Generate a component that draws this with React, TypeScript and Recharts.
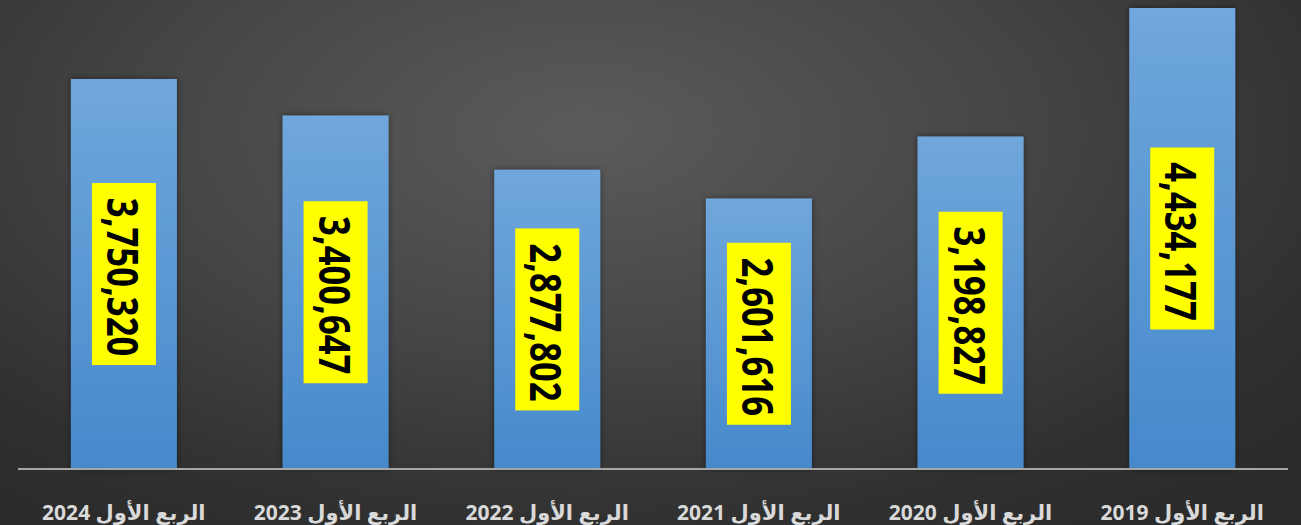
import React from "react";
import { BarChart, Bar, XAxis, YAxis, LabelList } from "recharts";

const categories = [
  "الربع الأول 2024",
  "الربع الأول 2023",
  "الربع الأول 2022",
  "الربع الأول 2021",
  "الربع الأول 2020",
  "الربع الأول 2019",
];
const values = [3750320, 3400647, 2877802, 2601616, 3198827, 4434177];

const data = categories.map((name, i) => ({ name, value: values[i] }));

const fmt = (v: number) => v.toLocaleString("en-US");

function ValueTag(props: any) {
  const { x, y, width, height, value } = props;
  const cx = x + width / 2;
  const cy = y + height / 2;
  const boxW = 64;
  const boxH = 182;
  return (
    <g>
      <rect x={cx - boxW / 2} y={cy - boxH / 2} width={boxW} height={boxH} fill="#ffff00" />
      <text
        transform={`translate(${cx},${cy + 3}) rotate(90) scale(1.05,1.3)`}
        textAnchor="middle"
        dominantBaseline="central"
        fontFamily="'Open Sans', 'DejaVu Sans', sans-serif"
        fontWeight="bold"
        fontSize={33}
        fill="#000"
      >
        {fmt(value)}
      </text>
    </g>
  );
}

function CatTick(props: any) {
  const { x, y, payload } = props;
  return (
    <text
      x={x}
      y={y + 43}
      textAnchor="middle"
      direction="rtl"
      fontFamily="'Open Sans', 'DejaVu Sans', sans-serif"
      fontWeight="bold"
      fontSize={21}
      fill="#d9d9d9"
    >
      {payload.value}
    </text>
  );
}

export default function App() {
  return (
    <div
      style={{
        position: "absolute",
        left: 0,
        top: 0,
        width: 1301,
        height: 525,
        background:
          "radial-gradient(ellipse 75% 95% at 45% 25%, #5b5b5b 0%, #454545 45%, #303030 80%, #2a2a2a 100%)",
      }}
    >
      <BarChart
        width={1301}
        height={525}
        data={data}
        margin={{ top: 8, right: 13, left: 18, bottom: 0 }}
        barCategoryGap="25%"
      >
        <defs>
          <linearGradient id="barFill" x1="0" y1="0" x2="0" y2="1">
            <stop offset="0%" stopColor="#70a7dc" />
            <stop offset="100%" stopColor="#4689cb" />
          </linearGradient>
          <filter id="barShadow" x="-10%" y="-5%" width="120%" height="110%">
            <feDropShadow dx="0" dy="0" stdDeviation="3" floodColor="#000" floodOpacity="0.45" />
          </filter>
        </defs>
        <YAxis hide domain={[0, 4434177]} />
        <XAxis
          dataKey="name"
          height={56}
          axisLine={{ stroke: "#a6a6a6", strokeWidth: 2 }}
          tickLine={false}
          tick={<CatTick />}
          interval={0}
        />
        <Bar
          dataKey="value"
          fill="url(#barFill)"
          filter="url(#barShadow)"
          isAnimationActive={false}
        >
          <LabelList dataKey="value" content={<ValueTag />} />
        </Bar>
      </BarChart>
    </div>
  );
}
